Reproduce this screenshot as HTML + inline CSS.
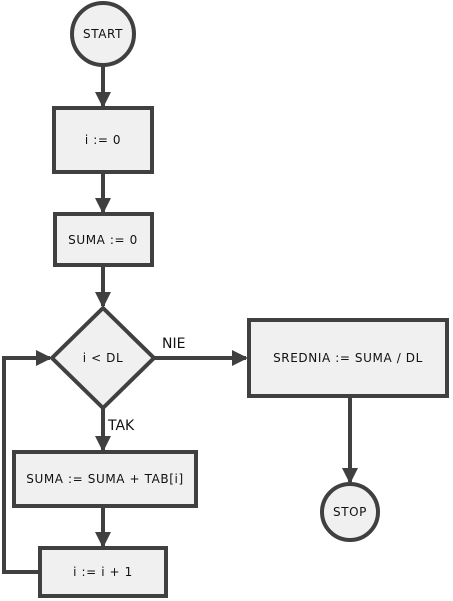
<!DOCTYPE html>
<html><head><style>body{margin:0;background:#fff}svg{display:block}text{font-family:"DejaVu Sans","Liberation Sans",sans-serif;font-size:12px;fill:#111;letter-spacing:0.6px}</style></head><body>
<svg width="453" height="601" viewBox="0 0 453 601">
<defs><marker id="a" markerWidth="18" markerHeight="18" refX="14" refY="8" orient="auto" markerUnits="userSpaceOnUse"><path d="M0,0 L16,8 L0,16 Z" fill="#404040"/></marker></defs>
<g stroke="#404040" stroke-width="4" fill="none">
<line x1="103" y1="65" x2="103" y2="106" marker-end="url(#a)"/>
<line x1="103" y1="172" x2="103" y2="212" marker-end="url(#a)"/>
<line x1="103" y1="265" x2="103" y2="306" marker-end="url(#a)"/>
<line x1="103" y1="408" x2="103" y2="450" marker-end="url(#a)"/>
<line x1="103" y1="506" x2="103" y2="546" marker-end="url(#a)"/>
<polyline points="40,572 4,572 4,358 50,358" marker-end="url(#a)"/>
<line x1="154" y1="358" x2="246" y2="358" marker-end="url(#a)"/>
<line x1="350" y1="396" x2="350" y2="482" marker-end="url(#a)"/>
</g>
<g stroke="#404040" stroke-width="4" fill="#f0f0f0">
<circle cx="103" cy="34" r="31"/>
<rect x="54" y="108" width="98" height="64"/>
<rect x="55" y="214" width="97" height="51"/>
<polygon points="103,308 154,358 103,408 52,358"/>
<rect x="14" y="452" width="182" height="54"/>
<rect x="40" y="548" width="126" height="48"/>
<rect x="249" y="320" width="198" height="76"/>
<circle cx="350" cy="512" r="28"/>
</g>
<g text-anchor="middle">
<text x="103" y="38">START</text>
<text x="103" y="144">i := 0</text>
<text x="103" y="244">SUMA := 0</text>
<text x="103" y="362">i &lt; DL</text>
<text x="105" y="483">SUMA := SUMA + TAB[i]</text>
<text x="103" y="576">i := i + 1</text>
<text x="348" y="362">SREDNIA := SUMA / DL</text>
<text x="350" y="516">STOP</text>
</g>
<text x="162" y="348" style="font-size:14px;letter-spacing:0">NIE</text>
<text x="108" y="430" style="font-size:14px;letter-spacing:0">TAK</text>
</svg>
</body></html>
